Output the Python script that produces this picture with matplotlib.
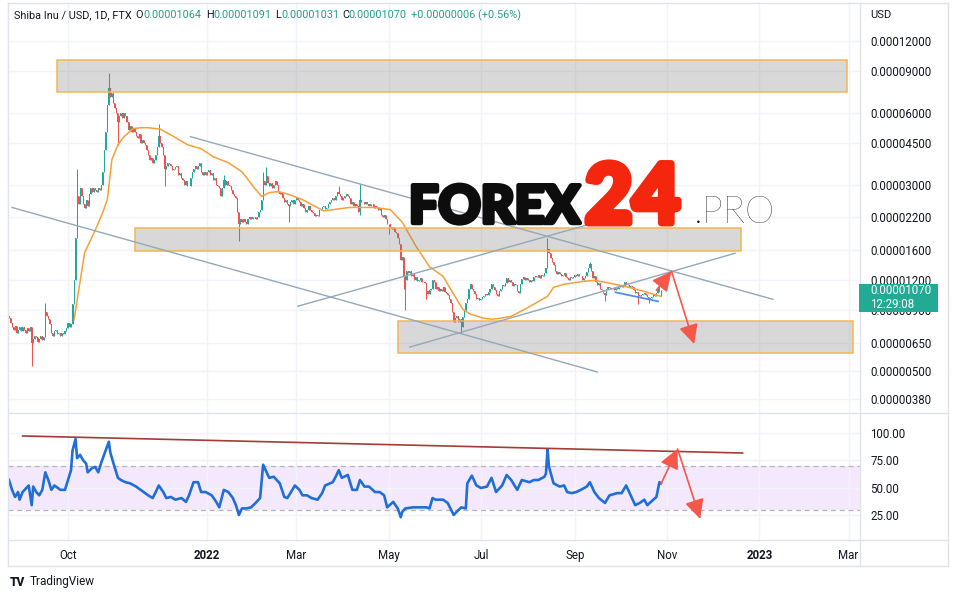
import numpy as np
import pandas as pd
import matplotlib
matplotlib.use('Agg')
import matplotlib.pyplot as plt
import matplotlib.dates as mdates
import matplotlib.ticker as mticker
import matplotlib.patheffects as pe
from matplotlib.patches import Rectangle
from matplotlib.lines import Line2D

plt.rcParams['font.family'] = ['Roboto', 'DejaVu Sans']

# ---------------- data (prices in units of 1e-8 USD) ----------------
U = 1e-8
start_date = '2021-08-23'
first_open = 850
c_2021_08 = [830, 790, 760, 740, 770, 720, 740, 760, 730]
c_2021_09 = [760, 740, 720, 750, 730, 760, 650, 680, 700, 690, 660, 680, 700, 670, 690,
             880, 850, 820, 780, 720, 700, 730, 740, 710, 720, 700, 720, 710, 730, 750]
c_2021_10 = [790, 760, 780, 950, 1200, 1800, 2700, 2500, 2900, 2700, 2500, 2400, 2600, 2450,
             2750, 2900, 2800, 2900, 2850, 2800, 2900, 2850, 3000, 3400, 4200, 5000, 6500,
             7600, 7000, 7300, 6600]
c_2021_11 = [6300, 6000, 5500, 5800, 6000, 5700, 6000, 5800, 5500, 5100, 5300, 5000, 5200,
             5000, 4800, 4700, 4900, 4500, 4600, 4500, 4400, 4200, 4000, 3800, 3900, 3700,
             3800, 4000, 4300, 4800]
c_2021_12 = [4500, 4300, 4000, 3500, 3600, 3700, 3650, 3600, 3450, 3500, 3550, 3600, 3300,
             3350, 3200, 3150, 3000, 3100, 2950, 2950, 3200, 3400, 3500, 3600, 3500, 3600,
             3700, 3400, 3300, 3400, 3300]
c_2022_01 = [3400, 3450, 3300, 3350, 3150, 3200, 3000, 2950, 2900, 2700, 2900, 3150, 3000,
             3100, 3000, 2950, 2850, 2750, 2700, 2650, 2300, 2050, 2150, 2100, 2150, 2100,
             2050, 2150, 2200, 2150, 2200]
c_2022_02 = [2200, 2150, 2200, 2300, 2350, 2600, 3100, 3000, 3250, 3050, 2950, 3050, 2900,
             3000, 3100, 3000, 2800, 2750, 2800, 2650, 2550, 2600, 2500, 2450, 2550, 2600,
             2500, 2600]
c_2022_03 = [2650, 2600, 2550, 2450, 2500, 2400, 2300, 2350, 2450, 2350, 2300, 2280, 2230,
             2250, 2220, 2350, 2380, 2420, 2450, 2380, 2400, 2500, 2550, 2600, 2650, 2600,
             2700, 2800, 2750, 2700, 2600]
c_2022_04 = [2650, 2700, 2750, 2700, 2650, 2500, 2550, 2450, 2500, 2450, 2300, 2600, 2550,
             2550, 2500, 2550, 2500, 2450, 2500, 2480, 2400, 2450, 2400, 2350, 2400, 2250,
             2200, 2250, 2150, 2050]
c_2022_05 = [2050, 2000, 1950, 2000, 1900, 1880, 1800, 1700, 1450, 1500, 1250, 1200, 1300,
             1280, 1300, 1240, 1270, 1200, 1230, 1190, 1200, 1220, 1180, 1170, 1160, 1080,
             1050, 1090, 1100, 1200, 1170]
c_2022_06 = [1100, 1120, 1080, 1100, 1080, 1120, 1070, 1060, 1040, 1000, 960, 880, 800, 830,
             850, 800, 820, 760, 840, 900, 960, 1000, 1100, 1150, 1100, 1080, 1050, 1000,
             1010, 990]
c_2022_07 = [1000, 1020, 1030, 1050, 1040, 1070, 1100, 1150, 1120, 1090, 1050, 1030, 1080,
             1100, 1140, 1130, 1160, 1220, 1180, 1200, 1170, 1130, 1150, 1140, 1080, 1060,
             1150, 1210, 1230, 1200, 1220]
c_2022_08 = [1200, 1180, 1200, 1190, 1230, 1240, 1230, 1260, 1220, 1260, 1250, 1280, 1350,
             1620, 1560, 1480, 1420, 1390, 1300, 1270, 1290, 1270, 1250, 1260, 1280, 1230,
             1220, 1200, 1230, 1220, 1230]
c_2022_09 = [1260, 1240, 1270, 1250, 1240, 1200, 1220, 1250, 1290, 1350, 1400, 1310, 1220,
             1240, 1180, 1140, 1160, 1100, 1090, 1060, 1040, 1100, 1120, 1110, 1100, 1110,
             1090, 1110, 1100, 1120]
c_2022_10 = [1140, 1120, 1130, 1170, 1150, 1140, 1120, 1130, 1120, 1090, 1060, 1070, 1040,
             1030, 1040, 1050, 1060, 1040, 1020, 1000, 1010, 1020, 1040, 1030, 1060, 1110,
             1064, 1070]

high_wicks = {'2021-09-16': 960, '2021-10-07': 3500, '2021-10-28': 8800, '2021-11-30': 5400,
              '2022-01-12': 3310, '2022-02-07': 3400, '2022-02-09': 3550, '2022-03-29': 2950,
              '2022-04-12': 3030, '2022-08-14': 1800, '2022-09-11': 1430, '2022-10-27': 1200,
              '2022-10-28': 1091}
low_wicks = {'2021-09-07': 520, '2021-11-03': 4400, '2021-12-04': 2950, '2022-01-22': 1750,
             '2022-02-24': 2100, '2022-04-12': 2250, '2022-05-01': 1860, '2022-05-11': 1100,
             '2022-05-12': 900, '2022-05-26': 1000, '2022-06-18': 720, '2022-09-21': 980,
             '2022-10-13': 950, '2022-10-20': 960, '2022-10-28': 1031}

# orange moving-average line
ma_dates = ['2021-10-05', '2021-10-12', '2021-10-20', '2021-10-24', '2021-10-27', '2021-10-30',
            '2021-11-03', '2021-11-07', '2021-11-13', '2021-11-18', '2021-11-23', '2021-12-01',
            '2021-12-10', '2021-12-19', '2021-12-28', '2022-01-05', '2022-01-15', '2022-01-24',
            '2022-02-01', '2022-02-06', '2022-02-11', '2022-02-17', '2022-02-24', '2022-03-05',
            '2022-03-19', '2022-04-05', '2022-04-22', '2022-05-02', '2022-05-10', '2022-05-19',
            '2022-05-28', '2022-06-06', '2022-06-11', '2022-06-19', '2022-06-24', '2022-07-03',
            '2022-07-08', '2022-07-14', '2022-07-21', '2022-07-30', '2022-08-14', '2022-08-18',
            '2022-08-25', '2022-09-07', '2022-09-14', '2022-09-21', '2022-10-04', '2022-10-17',
            '2022-10-28']
ma_values = [815, 1560, 2000, 2300, 2600, 3820, 4410, 4770, 5150, 5200, 5200, 5130,
             4770, 4410, 4250, 3930, 3710, 3400, 2920, 2680, 2780, 2810, 2730, 2600,
             2330, 2410, 2410, 2360, 2090, 1660, 1360, 1240, 1095, 903, 861, 828,
             820, 828, 844, 903, 1022, 1116, 1149, 1182, 1193, 1172, 1127, 1073, 1022]

# RSI
rsi_dates = ['2021-08-23', '2021-08-25', '2021-08-27', '2021-08-29', '2021-08-30', '2021-09-01',
             '2021-09-04', '2021-09-05', '2021-09-07', '2021-09-08', '2021-09-10', '2021-09-12',
             '2021-09-14', '2021-09-16', '2021-09-18', '2021-09-20', '2021-09-22', '2021-09-26',
             '2021-09-29', '2021-10-01', '2021-10-03', '2021-10-04', '2021-10-06', '2021-10-07',
             '2021-10-09', '2021-10-11', '2021-10-13', '2021-10-14', '2021-10-17', '2021-10-19',
             '2021-10-21', '2021-10-23', '2021-10-28', '2021-10-29', '2021-10-31', '2021-11-03',
             '2021-11-05', '2021-11-08', '2021-11-11', '2021-11-15', '2021-11-18', '2021-11-20',
             '2021-11-23', '2021-11-26', '2021-11-28', '2021-11-30', '2021-12-03', '2021-12-05',
             '2021-12-08', '2021-12-11', '2021-12-15', '2021-12-18', '2021-12-20', '2021-12-23',
             '2021-12-26', '2021-12-28', '2021-12-31', '2022-01-04', '2022-01-07', '2022-01-09',
             '2022-01-12', '2022-01-15', '2022-01-18', '2022-01-20', '2022-01-22', '2022-01-24',
             '2022-01-27', '2022-01-30', '2022-02-02', '2022-02-05', '2022-02-07', '2022-02-08',
             '2022-02-11', '2022-02-14', '2022-02-16', '2022-02-18', '2022-02-21', '2022-02-23',
             '2022-02-25', '2022-02-28', '2022-03-03', '2022-03-05', '2022-03-08', '2022-03-11',
             '2022-03-15', '2022-03-18', '2022-03-20', '2022-03-25', '2022-03-27', '2022-03-29',
             '2022-03-31', '2022-04-04', '2022-04-07', '2022-04-10', '2022-04-12', '2022-04-15',
             '2022-04-18', '2022-04-22', '2022-04-25', '2022-04-28', '2022-04-30', '2022-05-04',
             '2022-05-07', '2022-05-09', '2022-05-10', '2022-05-12', '2022-05-17', '2022-05-22',
             '2022-05-26', '2022-05-28', '2022-05-30', '2022-06-01', '2022-06-06', '2022-06-09',
             '2022-06-13', '2022-06-15', '2022-06-18', '2022-06-21', '2022-06-22', '2022-06-25',
             '2022-06-28', '2022-07-01', '2022-07-05', '2022-07-08', '2022-07-11', '2022-07-15',
             '2022-07-18', '2022-07-21', '2022-07-25', '2022-07-28', '2022-08-02', '2022-08-05',
             '2022-08-08', '2022-08-12', '2022-08-13', '2022-08-14', '2022-08-15', '2022-08-18',
             '2022-08-22', '2022-08-25', '2022-08-27', '2022-08-30', '2022-09-02', '2022-09-05',
             '2022-09-09', '2022-09-11', '2022-09-14', '2022-09-17', '2022-09-21', '2022-09-24',
             '2022-09-29', '2022-10-02', '2022-10-05', '2022-10-07', '2022-10-11', '2022-10-14',
             '2022-10-17', '2022-10-19', '2022-10-23', '2022-10-25', '2022-10-27', '2022-10-28']
rsi_values = [57, 48, 41.5, 46, 39, 46, 50.6, 52, 34, 51, 46, 43,
              48, 64, 57, 48, 52, 48, 48, 57, 66, 84, 94.5, 77,
              80, 75, 72, 64, 68, 69, 64, 73, 92, 82, 72.5, 59,
              57, 55, 54, 51, 48, 46, 43, 40.5, 46, 52, 46, 40.5,
              41.5, 39, 40.5, 37, 43, 55, 55, 46, 46, 43, 37, 32,
              48, 46, 40.5, 34, 25, 31, 31, 32, 36, 40.5, 71, 68,
              59, 60, 57, 54, 41.5, 40.5, 45, 52, 48, 43, 43, 40.5,
              39, 45, 52, 55, 60, 66, 59, 61.6, 48, 48, 57, 51,
              51, 46, 46, 43, 32, 37, 31, 23, 28, 31, 32, 32,
              32, 31, 40.5, 39, 39, 36, 25, 28, 32, 31, 54, 61,
              52, 49.7, 51, 59, 46, 52, 61.6, 57, 48, 57, 55, 57,
              57, 60, 63, 85, 69, 54, 51, 52, 46, 45, 46, 48,
              51, 55, 46, 40.5, 36, 43, 45, 45, 52, 46, 34, 36,
              39, 34, 39, 41.5, 55, 54]

price_ticks = [0.00012, 0.00009, 0.00006, 0.000045, 0.00003, 0.000022, 0.000016,
               0.000012, 0.000009, 0.0000065, 0.000005, 0.0000038]
rsi_ticks = [100, 75, 50, 25]
x_tick_dates = ['2021-10-01', '2022-01-01', '2022-03-01', '2022-05-01', '2022-07-01',
                '2022-09-01', '2022-11-01', '2023-01-01', '2023-03-01']
x_tick_labels = ['Oct', '2022', 'Mar', 'May', 'Jul', 'Sep', 'Nov', '2023', 'Mar']

# drawings (dates, prices)
zones = [(('2021-09-24', '2023-02-28'), (7.35e-5, 1.0e-4)),
         (('2021-11-14', '2022-12-20'), (1.58e-5, 1.97e-5)),
         (('2022-05-07', '2023-03-04'), (5.92e-6, 8.05e-6))]
trendlines = [(('2021-12-21', '2023-01-10'), (4.77e-5, 9.94e-6)),
              (('2021-08-25', '2022-09-16'), (2.41e-5, 4.93e-6)),
              (('2022-03-02', '2022-09-11'), (9.30e-6, 2.05e-5)),
              (('2022-05-15', '2022-12-16'), (6.27e-6, 1.55e-5))]
short_line = (('2022-09-28', '2022-10-26'), (1.063e-5, 9.75e-6))
price_arrows = [(('2022-10-25', 1.085e-5), ('2022-11-04', 1.302e-5)),
                (('2022-11-04', 1.302e-5), ('2022-11-19', 6.45e-6))]
rsi_resist = (('2021-09-01', '2022-12-21'), (97.3, 81.7))
rsi_arrows = [(('2022-10-28', 53.4), ('2022-11-08', 85.4)),
              (('2022-11-08', 85.4), ('2022-11-23', 21.3))]

# ---------------- build OHLC ----------------
closes = np.array(c_2021_08 + c_2021_09 + c_2021_10 + c_2021_11 + c_2021_12 + c_2022_01 +
                  c_2022_02 + c_2022_03 + c_2022_04 + c_2022_05 + c_2022_06 + c_2022_07 +
                  c_2022_08 + c_2022_09 + c_2022_10, dtype=float) * U
dates = pd.date_range(start_date, periods=len(closes), freq='D')
opens = np.concatenate([[first_open * U], closes[:-1]])
highs = np.maximum(opens, closes)
lows = np.minimum(opens, closes)
for d, v in high_wicks.items():
    highs[dates.get_loc(pd.Timestamp(d))] = v * U
for d, v in low_wicks.items():
    lows[dates.get_loc(pd.Timestamp(d))] = v * U

# ---------------- layout ----------------
W, H = 957, 598
fig = plt.figure(figsize=(W / 100, H / 100), dpi=100)
fig.patch.set_facecolor('white')

def frac(x0, y0, x1, y1):
    return [x0 / W, 1 - y1 / H, (x1 - x0) / W, (y1 - y0) / H]

ax = fig.add_axes(frac(8, 3, 860, 413))
axr = fig.add_axes(frac(8, 413, 860, 540), sharex=ax)

d0 = mdates.date2num(pd.Timestamp('2021-10-01'))
ppd = (848.5 - 68) / 516.0
ax.set_xlim(d0 + (8 - 68) / ppd, d0 + (860 - 68) / ppd)

ax.set_yscale('log')
k = (399 - 41) / np.log(1.2e-4 / 3.8e-6)
ax.set_ylim(1.2e-4 * np.exp(-(413 - 41) / k), 1.2e-4 * np.exp((41 - 3) / k))
k2 = (515 - 433) / 75.0
axr.set_ylim(25 - (540 - 515) / k2, 100 + (433 - 413) / k2)

GRID = '#f0f3fa'
TXT = '#131722'
for a in (ax, axr):
    for s in a.spines.values():
        s.set_visible(False)
    a.set_axisbelow(True)
    a.yaxis.tick_right()
    a.tick_params(axis='y', length=0, pad=7.5, labelsize=8.3, labelcolor=TXT)
    a.tick_params(axis='x', length=0)
    a.grid(True, color=GRID, lw=1)

ax.set_yticks(price_ticks)
ax.set_yticklabels([f'{t:.8f}' for t in price_ticks])
ax.yaxis.set_minor_locator(mticker.NullLocator())
axr.set_yticks(rsi_ticks)
axr.set_yticklabels([f'{t:.2f}' for t in rsi_ticks])

xt = [mdates.date2num(pd.Timestamp(d)) for d in x_tick_dates]
axr.set_xticks(xt)
axr.set_xticklabels(x_tick_labels)
axr.tick_params(axis='x', pad=6.5, labelsize=8.3, labelcolor=TXT)
for lab in axr.get_xticklabels():
    if lab.get_text().isdigit():
        lab.set_fontweight('bold')
ax.tick_params(axis='x', labelbottom=False)

# ---------------- candles ----------------
UP, DN = '#26a69a', '#ef5350'
cols = np.where(closes >= opens, UP, DN)
ax.vlines(dates, lows, highs, colors=cols, lw=0.75, zorder=2)
ax.bar(dates, np.abs(closes - opens), bottom=np.minimum(opens, closes), width=0.7,
       color=cols, lw=0, zorder=2)

# moving average
ax.plot(pd.to_datetime(ma_dates), np.array(ma_values) * U, color='#f7a035', lw=1.1, zorder=3)

# zones
for (da, db), (pa, pb) in zones:
    xa = mdates.date2num(pd.Timestamp(da)); xb = mdates.date2num(pd.Timestamp(db))
    ax.add_patch(Rectangle((xa, pa), xb - xa, pb - pa, facecolor=(0.5, 0.5, 0.5, 0.3),
                           edgecolor='#f3b84f', lw=1.1, zorder=4))
# trend lines
for (da, db), (pa, pb) in trendlines:
    ax.plot(pd.to_datetime([da, db]), [pa, pb], color='#93a8b8', lw=1.0, zorder=4)
ax.plot(pd.to_datetime(list(short_line[0])), list(short_line[1]), color='#4d8ef0', lw=1.3, zorder=5)

ARROW = '#f5584b'
def arrow(a, p0, p1):
    a.annotate('', xy=(mdates.date2num(pd.Timestamp(p1[0])), p1[1]),
               xytext=(mdates.date2num(pd.Timestamp(p0[0])), p0[1]),
               arrowprops=dict(arrowstyle='-|>,head_length=0.85,head_width=0.42',
                               mutation_scale=14, color=ARROW, lw=1.2,
                               shrinkA=0, shrinkB=0), zorder=6)
for p0, p1 in price_arrows:
    arrow(ax, p0, p1)

# ---------------- RSI pane ----------------
axr.axhspan(30, 70, color='#f4e8fd', zorder=0.5, lw=0)
for lvl in (70, 30):
    axr.axhline(lvl, color='#b4b6bf', lw=0.9, ls=(0, (4, 3)), zorder=1)
axr.plot(pd.to_datetime(rsi_dates), rsi_values, color='#1f6fd6', lw=1.9, zorder=3)
axr.plot(pd.to_datetime(list(rsi_resist[0])), list(rsi_resist[1]), color='#a23c36', lw=1.2, zorder=4)
for p0, p1 in rsi_arrows:
    arrow(axr, p0, p1)

# ---------------- frame lines ----------------
FR = '#e0e3eb'
def fline(x0, y0, x1, y1):
    fig.add_artist(Line2D([x0 / W, x1 / W], [1 - y0 / H, 1 - y1 / H], color=FR, lw=1, zorder=8))
fline(8, 3, 948, 3); fline(8, 413, 948, 413); fline(8, 540, 948, 540); fline(8, 566, 948, 566)
fline(8, 3, 8, 566); fline(860, 3, 860, 566); fline(948, 3, 948, 566)

# ---------------- header ----------------
TEAL = '#22a08f'
o_l, h_l, l_l, c_l = opens[-1], highs[-1], lows[-1], closes[-1]
chg = closes[-1] - closes[-2]
pct = chg / closes[-2] * 100
pieces = [('Shiba Inu / USD, 1D, FTX', 14, TXT), ('O', 135, TXT), (f'{o_l:.8f}', 143, TEAL),
          ('H', 206, TXT), (f'{h_l:.8f}', 213, TEAL), ('L', 275, TXT), (f'{l_l:.8f}', 281, TEAL),
          ('C', 342, TXT), (f'{c_l:.8f}', 348, TEAL), (f'{chg:+.8f} ({pct:+.2f}%)', 411, TEAL)]
for t, x, c in pieces:
    fig.text(x / W, 1 - 15.5 / H, t, ha='left', va='center', fontsize=7.8, color=c, zorder=9)

fig.text(870 / W, 1 - 15 / H, 'USD', ha='left', va='center', fontsize=8, color=TXT)

# last price label
fig.add_artist(Rectangle((859 / W, 1 - 312 / H), 79 / W, 28 / H, transform=fig.transFigure,
                         facecolor='#22ab94', edgecolor='none', zorder=10))
fig.text(870 / W, 1 - 291 / H, f'{c_l:.8f}', ha='left', va='center', fontsize=8.3,
         color='white', zorder=11)
fig.text(870 / W, 1 - 304.5 / H, '12:29:08', ha='left', va='center', fontsize=8.3,
         color='white', zorder=11)

# watermark
fig.text(409 / W, 1 - 223 / H, 'FOREX', ha='left', va='baseline', fontsize=37.5,
         family='Lato', fontweight='black', color='#0d0d0d', zorder=9,
         path_effects=[pe.withStroke(linewidth=3.2, foreground='#0d0d0d')])
fig.text(585 / W, 1 - 223 / H, '24', ha='left', va='baseline', fontsize=59,
         family='Lato', fontweight='black', color='#f5260e', zorder=9,
         path_effects=[pe.withStroke(linewidth=5, foreground='#f5260e')])
fig.text(694 / W, 1 - 223 / H, '.PRO', ha='left', va='baseline', fontsize=27,
         family='Lato', fontweight='light', color='#0d0d0d', zorder=9)

# TradingView logo
fig.text(10 / W, 1 - 582 / H, 'TV', ha='left', va='center', fontsize=8.5,
         fontweight='black', color=TXT)
fig.text(30 / W, 1 - 582 / H, 'TradingView', ha='left', va='center', fontsize=8.5, color=TXT)

fig.savefig('out.png', dpi=100, facecolor='white')
